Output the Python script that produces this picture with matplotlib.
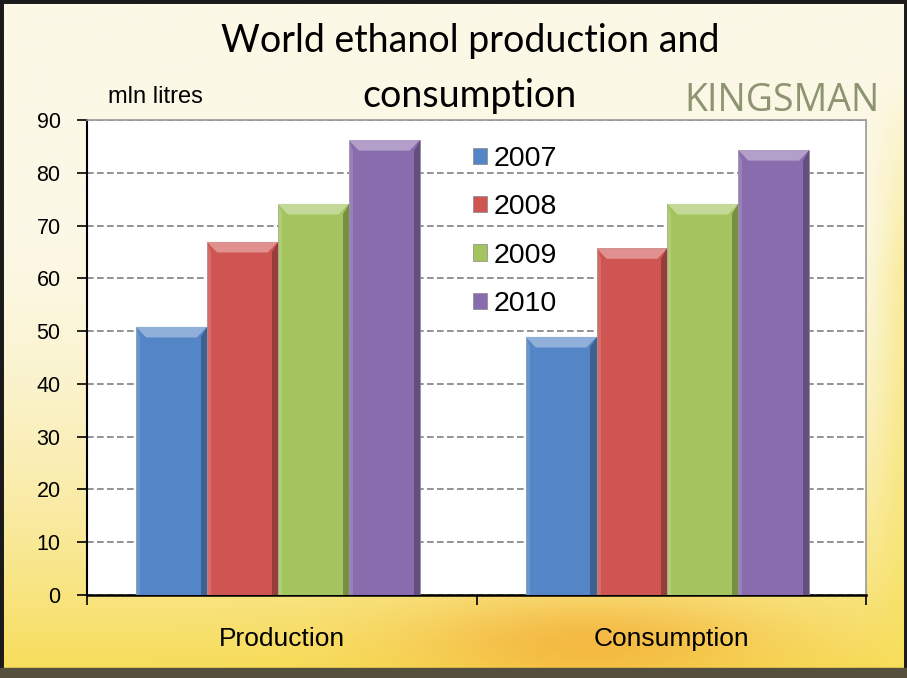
import numpy as np
import matplotlib
matplotlib.use("Agg")
import matplotlib.pyplot as plt
from matplotlib.patches import Polygon, Rectangle
from matplotlib.colors import to_rgb

# data
categories = ["Production", "Consumption"]
years = ["2007", "2008", "2009", "2010"]
values = {
    "2007": [50.8, 48.9],
    "2008": [66.9, 65.7],
    "2009": [74.1, 74.1],
    "2010": [86.2, 84.3],
}
colors = ["#5485c6", "#cf5553", "#a4c45f", "#896cae"]
yticks = list(range(0, 100, 10))

fig = plt.figure(figsize=(9.07, 6.78), dpi=100)

# background: light cream at top, warm yellow / orange towards the bottom
bg = fig.add_axes([0, 0, 1, 1], zorder=0)
h, w = 340, 454
yy, xx = np.mgrid[0:1:h * 1j, 0:1:w * 1j]
top = np.array(to_rgb("#fcf8e6"))
mid = np.array(to_rgb("#f9eeb8"))
low = np.array(to_rgb("#f7dc55"))
t = np.clip((yy - 0.35) / 0.65, 0, 1)[..., None]
img = top * (1 - t) + (mid * (1 - t) + low * t) * t
orange = np.array(to_rgb("#f2a12a"))
blob = np.exp(-(((xx - 0.65) / 0.2) ** 2 + ((yy - 0.95) / 0.07) ** 2))[..., None]
img = img * (1 - 0.6 * blob) + orange * 0.6 * blob
side = np.exp(-((xx - 1.0) / 0.03) ** 2)[..., None] * np.clip((yy - 0.1) / 0.3, 0, 1)[..., None]
img = img * (1 - 0.5 * side) + np.array(to_rgb("#f7e15a")) * 0.5 * side
bg.imshow(img, extent=[0, 1, 0, 1], aspect="auto", origin="upper")
bg.add_patch(Rectangle((0.0, 0.0), 1, 1, fill=False, ec="#1a1a1a", lw=5,
                       transform=bg.transAxes))
bg.add_patch(Rectangle((0.0, 0.0), 1, 0.015, color="#55503e",
                       transform=bg.transAxes))
bg.set_xlim(0, 1)
bg.set_ylim(0, 1)
bg.axis("off")

ax = fig.add_axes([0.0959, 0.1224, 0.859, 0.7006], zorder=1)
ax.set_facecolor("white")

x = np.arange(len(categories))
bw = 0.182
bx = 0.026
by = 2.0
for i, (yr, c) in enumerate(zip(years, colors)):
    xs = x + (i - 1.5) * bw - 0.01
    ax.bar(xs, values[yr], width=bw, color=c, edgecolor="#888888",
           linewidth=0.5, zorder=3, label=yr)
    base = np.array(to_rgb(c))
    light = base + (1 - base) * 0.35
    dark = base * 0.55
    for xc, v in zip(xs, values[yr]):
        x0, x1 = xc - bw / 2, xc + bw / 2
        ax.add_patch(Polygon([(x0, v), (x1, v), (x1 - bx, v - by), (x0 + bx, v - by)],
                             closed=True, color=light, zorder=4, lw=0))
        ax.add_patch(Polygon([(x1, v), (x1, 0), (x1 - bx * 0.6, 0), (x1 - bx * 0.6, v - by)],
                             closed=True, color=dark, alpha=0.6, zorder=4, lw=0))
        ax.add_patch(Polygon([(x0, v), (x0, 0), (x0 + bx * 0.4, 0), (x0 + bx * 0.4, v - by)],
                             closed=True, color=light, alpha=0.4, zorder=4, lw=0))

ax.set_xlim(-0.5, 1.5)
ax.set_ylim(0, 90)
ax.set_yticks(yticks)
ax.set_yticklabels([str(v) for v in yticks], fontsize=15.5, family=["Liberation Sans", "DejaVu Sans"])
ax.yaxis.grid(True, linestyle=(0, (4, 2)), color="#808080", linewidth=1.2, zorder=1)
ax.set_axisbelow(True)
ax.tick_params(axis="y", length=7, width=1.2, direction="out", pad=12)

ax.set_xticks([-0.5, 0.5, 1.5])
ax.set_xticklabels([])
ax.tick_params(axis="x", length=7, width=1.2, direction="out")
ax.set_xticks(x, minor=True)
ax.set_xticklabels(categories, minor=True, fontsize=19,
                   family=["Liberation Sans", "DejaVu Sans"])
ax.tick_params(axis="x", which="minor", length=0, pad=23)

ax.spines["left"].set_color("black")
ax.spines["left"].set_linewidth(1.5)
ax.spines["bottom"].set_color("black")
ax.spines["bottom"].set_linewidth(1.8)
for s in ["top", "right"]:
    ax.spines[s].set_color("#999999")
    ax.spines[s].set_linewidth(1.2)

leg = ax.legend(loc="upper left", bbox_to_anchor=(0.462, 0.999), frameon=False,
                handlelength=0.5, handleheight=0.5,
                handletextpad=0.25, labelspacing=0.78,
                prop={"family": ["Liberation Sans", "DejaVu Sans"], "size": 20.5})

fig.text(0.518, 0.939, "World ethanol production and", ha="center", va="center",
         fontsize=27, family=["Lato", "DejaVu Sans"])
fig.text(0.518, 0.859, "consumption", ha="center", va="center",
         fontsize=27, family=["Lato", "DejaVu Sans"])
fig.text(0.119, 0.857, "mln litres", ha="left", va="center",
         fontsize=17, family=["Liberation Sans", "DejaVu Sans"])
fig.text(0.97, 0.851, "KINGSMAN", ha="right", va="center", color="#8d9471",
         fontsize=27, family=["Open Sans", "DejaVu Sans"])

fig.savefig("out.png", dpi=100)
